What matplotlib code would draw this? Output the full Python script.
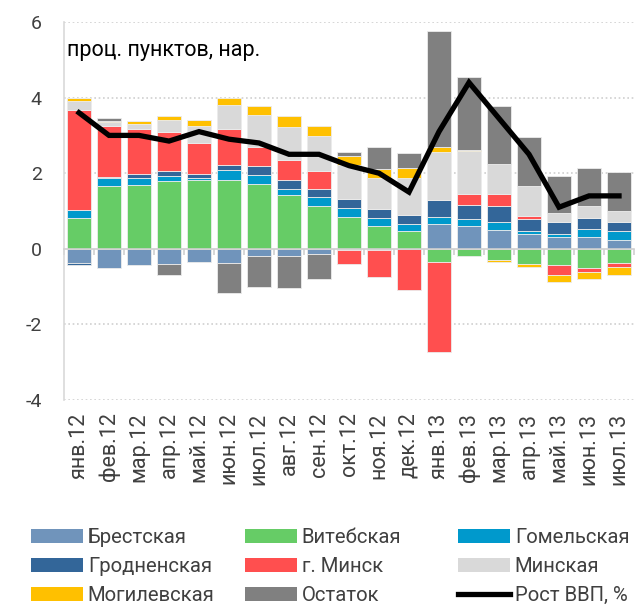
import numpy as np
import matplotlib
matplotlib.use("Agg")
import matplotlib.pyplot as plt
from matplotlib.patches import Patch
from matplotlib.lines import Line2D

plt.rcParams['font.family'] = ['Roboto', 'DejaVu Sans']

months = ["янв.12", "фев.12", "мар.12", "апр.12", "май.12", "июн.12", "июл.12",
          "авг.12", "сен.12", "окт.12", "ноя.12", "дек.12", "янв.13", "фев.13",
          "мар.13", "апр.13", "май.13", "июн.13", "июл.13"]

# contributions by region, p.p.
brest    = [-0.38, -0.50, -0.44, -0.40, -0.35, -0.38, -0.20, -0.19, -0.13, -0.03,
            -0.02, -0.01, 0.66, 0.61, 0.50, 0.40, 0.32, 0.32, 0.23]
vitebsk  = [0.82, 1.65, 1.68, 1.80, 1.83, 1.81, 1.72, 1.42, 1.12, 0.85,
            0.61, 0.46, -0.34, -0.19, -0.30, -0.39, -0.42, -0.50, -0.38]
gomel    = [0.21, 0.23, 0.18, 0.12, 0.03, 0.28, 0.24, 0.17, 0.24, 0.23,
            0.20, 0.20, 0.19, 0.19, 0.21, 0.07, 0.08, 0.21, 0.23]
grodno   = [-0.06, 0.02, 0.12, 0.13, 0.12, 0.12, 0.24, 0.23, 0.22, 0.24,
            0.24, 0.23, 0.45, 0.35, 0.42, 0.33, 0.31, 0.29, 0.25]
minsk_c  = [2.64, 1.36, 1.20, 1.04, 0.82, 0.96, 0.49, 0.53, 0.48, -0.38,
            -0.73, -1.09, -2.38, 0.30, 0.31, 0.06, -0.28, -0.11, -0.10]
minsk_r  = [0.24, 0.09, 0.12, 0.31, 0.44, 0.64, 0.86, 0.88, 0.93, 0.90,
            0.82, 0.98, 1.25, 1.13, 0.80, 0.79, 0.24, 0.31, 0.30]
mogilev  = [0.08, 0.03, 0.09, 0.12, 0.16, 0.19, 0.22, 0.27, 0.27, 0.23,
            0.24, 0.26, 0.14, 0.03, -0.04, -0.10, -0.19, -0.20, -0.20]
rest     = [0.00, 0.08, 0.00, -0.28, 0.00, -0.79, -0.80, -0.85, -0.66, 0.10,
            0.59, 0.40, 3.08, 1.93, 1.54, 1.30, 0.98, 1.02, 1.03]
gdp      = [3.6, 3.0, 3.0, 2.85, 3.1, 2.9, 2.8, 2.5, 2.5, 2.2,
            2.0, 1.5, 3.1, 4.4, 3.45, 2.5, 1.1, 1.4, 1.4]

series = [
    ("Брестская", brest, "#7094bb"),
    ("Витебская", vitebsk, "#66cc66"),
    ("Гомельская", gomel, "#0099cc"),
    ("Гродненская", grodno, "#336699"),
    ("г. Минск", minsk_c, "#ff4f4f"),
    ("Минская", minsk_r, "#d9d9d9"),
    ("Могилевская", mogilev, "#ffc000"),
    ("Остаток", rest, "#808080"),
]

fig = plt.figure(figsize=(6.43, 6.06), dpi=100)
ax = fig.add_axes([64 / 643, 206 / 606, 570 / 643, 378 / 606])

x = np.arange(len(months))
pos_bottom = np.zeros(len(months))
neg_bottom = np.zeros(len(months))
for name, vals, col in series:
    v = np.array(vals)
    bottom = np.where(v >= 0, pos_bottom, neg_bottom)
    ax.bar(x, v, 0.83, bottom=bottom, color=col, edgecolor="#ececec",
           linewidth=0.6, zorder=2)
    pos_bottom += np.where(v >= 0, v, 0)
    neg_bottom += np.where(v < 0, v, 0)

ax.plot(x, gdp, color="black", lw=3.8, solid_joinstyle="miter", zorder=3)

ax.set_xlim(-0.5, len(months) - 0.5)
ax.set_ylim(-4, 6)
ax.set_yticks([-4, -2, 0, 2, 4, 6])
ax.set_yticklabels(["-4", "-2", "0", "2", "4", "6"])
for yv in [-4, -2, 2, 4, 6]:
    ax.axhline(yv, color="#d0d0d0", lw=1.2, ls=(0, (1, 1.6)), zorder=1)

for s in ["top", "right"]:
    ax.spines[s].set_visible(False)
ax.spines["left"].set_color("#d9d9d9")
ax.spines["left"].set_linewidth(1.2)
ax.spines["bottom"].set_position(("data", 0))
ax.spines["bottom"].set_color("#d0d0d0")
ax.spines["bottom"].set_linewidth(1.2)
ax.spines["bottom"].set_zorder(2.5)

ax.set_xticks(np.arange(-0.5, len(months), 1.0))
ax.set_xticklabels([])
ax.tick_params(axis="x", direction="out", length=4, width=1.2, color="#d0d0d0")
ax.tick_params(axis="y", length=0, pad=16, labelsize=14, labelcolor="#404040")

for i, m in enumerate(months):
    ax.annotate(m, xy=(i, -4), xycoords="data", xytext=(0, -9),
                textcoords="offset points", rotation=90, ha="center", va="top",
                fontsize=15.5, color="#404040")

ax.text(0.005, 0.925, "проц. пунктов, нар.", transform=ax.transAxes,
        fontsize=15.5, color="black", va="center", ha="left")

# legend in three columns, Excel row-wise order
handles = [Patch(facecolor=c, edgecolor="none", label=n) for n, _, c in series]
handles.append(Line2D([0], [0], color="black", lw=3.8, label="Рост ВВП, %"))
col_x = [31 / 643, 245 / 643, 458 / 643]
for j in range(3):
    hs = handles[j::3]
    fig.legend(handles=hs, loc="upper left", bbox_to_anchor=(col_x[j], 1 - 528 / 606),
               frameon=False, fontsize=14.6, handlelength=2.55, handleheight=0.68,
               handletextpad=0.25, labelspacing=0.5, borderpad=0,
               borderaxespad=0, labelcolor="#404040")

fig.savefig("out.png", dpi=100)
